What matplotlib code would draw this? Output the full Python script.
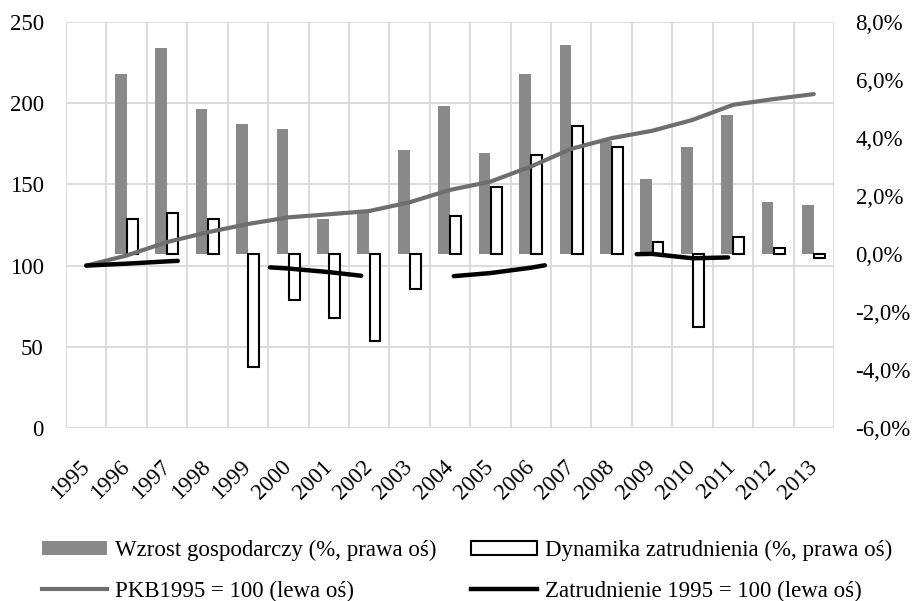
import numpy as np
import matplotlib
matplotlib.use('Agg')
import matplotlib.pyplot as plt
from matplotlib.patches import Patch
from matplotlib.lines import Line2D

plt.rcParams['font.family'] = ['Liberation Serif', 'DejaVu Serif']
plt.rcParams['lines.scale_dashes'] = False

years = [str(y) for y in range(1995, 2014)]
bar_years = years[1:]
wzrost = [6.2, 7.1, 5.0, 4.5, 4.3, 1.2, 1.4, 3.6, 5.1, 3.5, 6.2, 7.2, 3.9, 2.6, 3.7, 4.8, 1.8, 1.7]
dynamika = [1.2, 1.4, 1.2, -3.9, -1.6, -2.2, -3.0, -1.2, 1.3, 2.3, 3.4, 4.4, 3.7, 0.4, -2.5, 0.6, 0.2, -0.15]
pkb = [100, 106.2, 114.5, 120.5, 125.6, 129.7, 131.6, 133.6, 139.0, 146.6, 151.7,
       161.0, 171.9, 178.5, 183.0, 189.7, 199.0, 202.5, 205.6]
zatr = [100, 101.2, 102.6, 103.8, 99.8, 98.2, 96.0, 93.2, 92.1, 93.3, 95.4,
        98.7, 103.0, 106.8, 107.2, 104.5, 105.1, 105.3, 105.2]
left_ticks = [0, 50, 100, 150, 200, 250]
right_ticks = [-6, -4, -2, 0, 2, 4, 6, 8]
right_labels = [f"{v:.1f}%".replace('.', ',') for v in right_ticks]

labels = ['Wzrost gospodarczy (%, prawa oś)', 'Dynamika zatrudnienia (%, prawa oś)',
          'PKB1995 = 100 (lewa oś)', 'Zatrudnienie 1995 = 100 (lewa oś)']

C_BAR = '#898989'
C_PKB = '#6e6e6e'
C_GRID = '#d9d9d9'
FS = 16.5

W, H = 913, 601
fig = plt.figure(figsize=(W / 100, H / 100), dpi=100)
ax = fig.add_axes([66 / W, 173 / H, 768 / W, 406 / H])
ax2 = ax.twinx()
ax3 = ax.twinx()

x = np.arange(len(years))
xb = np.arange(1, len(years))

ax.set_xlim(-0.5, len(years) - 0.5)
ax.set_ylim(0, 250)
ax.set_yticks(left_ticks)
ax.set_xticks(x)
ax.set_xticklabels(years)
ax.set_xticks(np.arange(-0.5, len(years)), minor=True)
ax.grid(which='minor', axis='x', color=C_GRID, lw=1.3)
ax.grid(which='major', axis='y', color=C_GRID, lw=1.3)
ax.grid(which='major', axis='x', visible=False)
ax.tick_params(axis='y', length=0, pad=16, labelsize=FS)
ax.tick_params(axis='x', which='both', length=0, pad=26, labelsize=FS)
for lbl in ax.get_xticklabels():
    lbl.set_rotation(45)
    lbl.set_ha('right')
    lbl.set_va('center')
    lbl.set_rotation_mode('anchor')

ax2.set_ylim(-6, 8)
ax2.set_yticks(right_ticks)
ax2.set_yticklabels(right_labels)
ax2.tick_params(axis='y', length=0, pad=15.5, labelsize=FS)
ax2.bar(xb - 0.145, wzrost, width=0.29, color=C_BAR, linewidth=0)
ax2.bar(xb + 0.145, dynamika, width=0.27, facecolor='white', edgecolor='black', linewidth=1.5)

ax3.set_ylim(0, 250)
ax3.plot(x, pkb, color=C_PKB, lw=3, solid_capstyle='round', solid_joinstyle='round')
ax3.plot(x, zatr, color='black', lw=3.2, dashes=(66.0, 66.8), dash_capstyle='round')
ax3.set_yticks([])

for a in (ax, ax2, ax3):
    for s in a.spines.values():
        s.set_visible(False)

handles = [Patch(facecolor=C_BAR, edgecolor='none'),
           Line2D([], [], color=C_PKB, lw=3),
           Patch(facecolor='white', edgecolor='black', linewidth=1.5),
           Line2D([], [], color='black', lw=3.2)]
hl = [labels[0], labels[2], labels[1], labels[3]]
fig.legend(handles, hl, ncol=2, loc='upper left', bbox_to_anchor=(42 / W, 1 - 540 / H),
           frameon=False, borderpad=0, borderaxespad=0, handlelength=2.85,
           handleheight=0.55, handletextpad=0.35, columnspacing=1.5,
           labelspacing=0.85, fontsize=FS)

fig.savefig('out.png', dpi=100)
